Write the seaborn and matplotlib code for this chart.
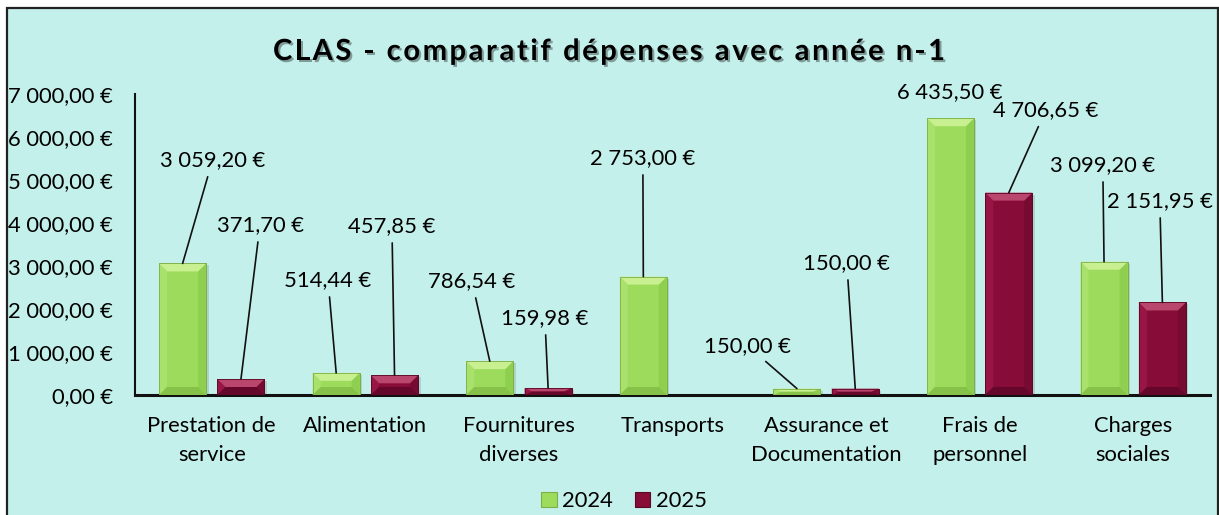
import matplotlib
matplotlib.use("Agg")
import matplotlib.pyplot as plt
import matplotlib.patheffects as pe
from matplotlib.patches import Rectangle, Polygon, Patch
from matplotlib.ticker import FuncFormatter
import numpy as np
import pandas as pd
import seaborn as sns

# ---- data -------------------------------------------------------------
categories = ["Prestation de\nservice", "Alimentation", "Fournitures\ndiverses",
              "Transports", "Assurance et\nDocumentation", "Frais de\npersonnel",
              "Charges\nsociales"]
years = ["2024", "2025"]
values_2024 = [3059.20, 514.44, 786.54, 2753.00, 150.00, 6435.50, 3099.20]
values_2025 = [371.70, 457.85, 159.98, np.nan, 150.00, 4706.65, 2151.95]
y_ticks = [0, 1000, 2000, 3000, 4000, 5000, 6000, 7000]
title = "CLAS - comparatif dépenses avec année n-1"

# label anchor (x in category units, y in euros) for each bar, per year
label_pos_2024 = [(0.005, 5465), (0.757, 2674), (1.694, 2651), (2.807, 5512),
                  (3.491, 1140), (4.806, 7047), (5.802, 5349)]
label_pos_2025 = [(0.314, 3953), (1.173, 3930), (2.169, 1791), None,
                  (4.135, 3070), (5.431, 6628), (6.173, 4512)]

# ---- style ------------------------------------------------------------
BG = "#C4F0EB"
GREEN = "#9CDB5B"
RED = "#880C38"
SHADES = {
    GREEN: dict(top="#C8EF90", bottom="#86C24A", left="#A8E16C", right="#8ECF50", edge="#7DAF46"),
    RED: dict(top="#B9466C", bottom="#64072A", left="#981545", right="#760A30", edge="#5E0626"),
}
FONT = "Lato"
FS = 15.8

W, H, DPI = 12.19, 5.15, 100
fig = plt.figure(figsize=(W, H), dpi=DPI, facecolor="white")

# chart area frame
fig.patches.append(Rectangle((6.5 / 1219, -0.2), (1218 - 6.5) / 1219, 1.2 - 8 / 515,
                             transform=fig.transFigure, facecolor=BG,
                             edgecolor="#222222", linewidth=1.6, zorder=-10))

ax = fig.add_axes([135 / 1219, 1 - 395 / 515, (1210 - 135) / 1219, (395 - 94) / 515])
ax.set_facecolor("none")

df = pd.DataFrame({
    "cat": categories * 2,
    "year": [years[0]] * len(categories) + [years[1]] * len(categories),
    "val": values_2024 + values_2025,
})

sns.barplot(data=df, x="cat", y="val", hue="year", order=categories,
            hue_order=years, palette=[GREEN, RED], width=0.76, gap=0.195,
            saturation=1, ax=ax, legend=False, zorder=3)

ax.set_xlim(-0.5, len(categories) - 0.5)
ax.set_ylim(0, 7000)
ax.set_yticks(y_ticks)


def euro(v, _pos=None):
    s = f"{v:,.2f}".replace(",", " ").replace(".", ",")
    return f"{s} €"


ax.yaxis.set_major_formatter(FuncFormatter(euro))
ax.set_xlabel("")
ax.set_ylabel("")
ax.tick_params(axis="y", length=0, pad=16, labelsize=FS, labelcolor="black")
ax.tick_params(axis="x", length=0, pad=15, labelsize=FS, labelcolor="black")
for lab in ax.get_yticklabels() + ax.get_xticklabels():
    lab.set_fontfamily(FONT)
for lab in ax.get_xticklabels():
    lab.set_linespacing(1.55)

for side in ["top", "right"]:
    ax.spines[side].set_visible(False)
ax.spines["left"].set_linewidth(1.5)
ax.spines["bottom"].set_linewidth(2.2)
ax.spines["left"].set_color("#111111")
ax.spines["bottom"].set_color("#111111")
ax.grid(False)

# pixel -> data scale for bevel geometry
p0 = ax.transData.transform((0, 0))
p1 = ax.transData.transform((1, 1000))
px_x = p1[0] - p0[0]
px_y = (p1[1] - p0[1]) / 1000.0

bars = [p for p in ax.patches if isinstance(p, Rectangle)]
for bar in bars:
    h = bar.get_height()
    if not np.isfinite(h) or h <= 0:
        continue
    x, y, w = bar.get_x(), bar.get_y(), bar.get_width()
    fc = matplotlib.colors.to_hex(bar.get_facecolor())
    key = GREEN if fc.lower() == GREEN.lower() else RED
    sh = SHADES[key]
    bar.set_edgecolor(sh["edge"])
    bar.set_linewidth(0.6)
    # soft drop shadow
    ax.add_patch(Rectangle((x + 2.5 / px_x, y), w, h - 2.0 / px_y,
                           facecolor="#000000", alpha=0.12, linewidth=0, zorder=2))
    dx = min(8.0 / px_x, w / 2)
    dy = min(8.0 / px_y, h / 2)
    top = [(x, y + h), (x + w, y + h), (x + w - dx, y + h - dy), (x + dx, y + h - dy)]
    bot = [(x, y), (x + w, y), (x + w - dx, y + dy), (x + dx, y + dy)]
    left = [(x, y), (x + dx, y + dy), (x + dx, y + h - dy), (x, y + h)]
    right = [(x + w, y), (x + w - dx, y + dy), (x + w - dx, y + h - dy), (x + w, y + h)]
    for poly, col in [(left, sh["left"]), (right, sh["right"]),
                      (top, sh["top"]), (bot, sh["bottom"])]:
        ax.add_patch(Polygon(poly, closed=True, facecolor=col, edgecolor="none",
                             linewidth=0, zorder=3.5))
    ax.add_patch(Rectangle((x, y), w, h, facecolor="none", edgecolor=sh["edge"],
                           linewidth=0.6, zorder=3.6))

# value labels with leader lines
offset = 0.76 / 4
for i in range(len(categories)):
    for k, (vals, poss) in enumerate([(values_2024, label_pos_2024),
                                      (values_2025, label_pos_2025)]):
        v = vals[i]
        pos = poss[i]
        if pos is None or not np.isfinite(v):
            continue
        bx = i + (-offset if k == 0 else offset)
        lx, ly = pos
        dist = np.hypot((lx - bx) * px_x, (ly - v) * px_y)
        props = None
        if dist > 32:
            props = dict(arrowstyle="-", color="#111111", lw=1.2,
                         shrinkA=3, shrinkB=0)
        ax.annotate(euro(v), xy=(bx, v), xytext=(lx, ly), textcoords="data",
                    ha="center", va="center", fontsize=FS, family=FONT,
                    color="black", arrowprops=props, zorder=5,
                    annotation_clip=False)

# title with letter spacing and a soft shadow
renderer = fig.canvas.get_renderer()
tprops = dict(fontsize=21, fontweight="bold", family=FONT, color="black")


def text_width(s):
    t = fig.text(0, 0, s, **tprops)
    wpx = t.get_window_extent(renderer).width
    t.remove()
    return wpx


space_w = text_width("x x") - text_width("xx")
widths = [space_w if c == " " else text_width(c) for c in title]
target = 945 - 273
spacing = (target - sum(widths)) / (len(title) - 1)
cx = 609.0
xpos = cx - target / 2
for c, wc in zip(title, widths):
    if c != " ":
        fig.text(xpos / 1219, 1 - 60 / 515, c, ha="left", va="baseline",
                 path_effects=[pe.withSimplePatchShadow(offset=(1.5, -1.5),
                                                        shadow_rgbFace="#000000",
                                                        alpha=0.35)],
                 **tprops)
    xpos += wc + spacing

# legend
handles = [Patch(facecolor=GREEN, edgecolor=SHADES[GREEN]["edge"], linewidth=0.8),
           Patch(facecolor=RED, edgecolor=SHADES[RED]["edge"], linewidth=0.8)]
leg = fig.legend(handles, years, loc="center", bbox_to_anchor=(624 / 1219, 1 - 501 / 515),
                 ncol=2, frameon=False, handlelength=0.7, handleheight=0.7,
                 handletextpad=0.25, columnspacing=1.0,
                 prop=dict(family=FONT, size=FS))

fig.savefig("out.png", dpi=DPI, facecolor="white")
